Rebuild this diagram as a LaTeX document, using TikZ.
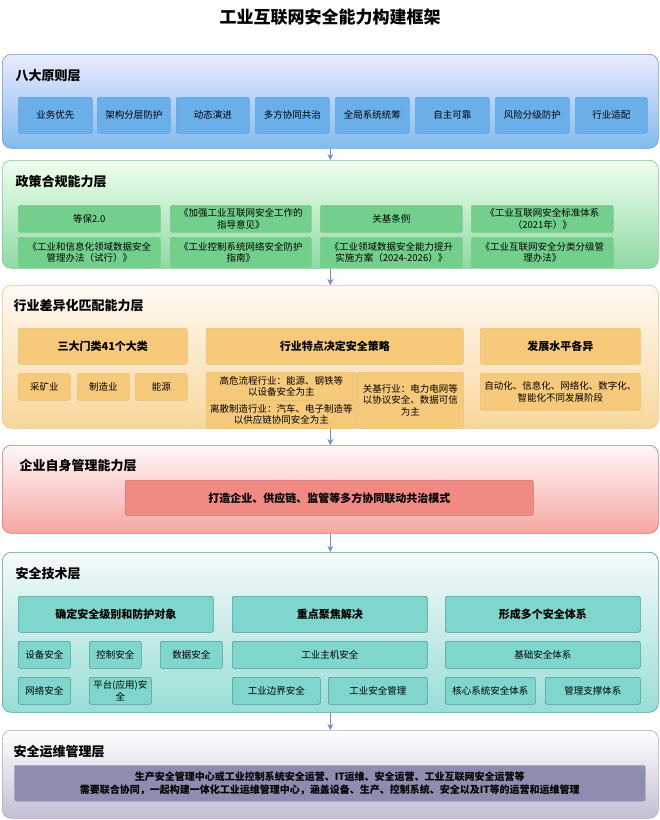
\documentclass[tikz,border=0pt]{standalone}
\usepackage{fontspec}
\setmainfont{Noto Sans CJK SC}
\XeTeXlinebreaklocale "zh"
\XeTeXlinebreakskip=0pt
\usetikzlibrary{arrows.meta}
\definecolor{bluebd}{HTML}{6A9FD8}
\definecolor{bluebx}{HTML}{6AAFEA}
\definecolor{greenbd}{HTML}{7CC98A}
\definecolor{greenbx}{HTML}{72D08C}
\definecolor{orangebd}{HTML}{E8C27A}
\definecolor{orangebx}{HTML}{F7C97A}
\definecolor{redbd}{HTML}{D97070}
\definecolor{redbx}{HTML}{F28A84}
\definecolor{tealbd}{HTML}{4E9A94}
\definecolor{tealbx}{HTML}{7ED6CC}
\definecolor{greybd}{HTML}{A8A8C0}
\definecolor{greybx}{HTML}{8F8CB2}
\definecolor{arrowc}{HTML}{7088D8}
\tikzset{every picture/.style={line width=0.6pt}}
\tikzset{
  layer/.style={draw=#1bd, rounded corners=9pt, anchor=north west, inner sep=0pt},
  ltitle/.style={anchor=west, font=\fontsize{13}{15}\selectfont\bfseries},
  box/.style={draw=#1bd, fill=#1bx, rounded corners=2pt, anchor=north west, inner sep=1pt, align=center, font=\fontsize{9.5}{11.5}\selectfont},
  bigbox/.style={box=#1, font=\fontsize{11}{13}\selectfont\bfseries},
  flow/.style={-{Stealth[length=6pt,width=6pt]}, draw=arrowc, line width=1.2pt}
}
\newcommand{\bx}[7][box]{% style, colour, name, x, y, w, h, text
  \node[#1=#2, minimum width=#5pt, minimum height=#6pt, text width=#5pt-4pt] (#3) at (#4) {#7};}
\begin{document}
\begin{tikzpicture}[x=1pt,y=-1pt]
  \useasboundingbox (0,0) rectangle (660,820);
  \fill[white] (0,0) rectangle (660,820);
  \node[font=\fontsize{17}{20}\selectfont\bfseries] (title) at (330,17) {工业互联网安全能力构建框架};

  % layer 1
  \node[layer=blue, top color=blue!8, bottom color=bluebx!85, minimum width=656pt, minimum height=94pt] (l1) at (2,54) {};
  \node[ltitle] (t1) at (12,76) {八大原则层};
  \bx{blue}{p1}{18,97}{74}{36}{业务优先}
  \bx{blue}{p2}{97,97}{73}{36}{架构分层防护}
  \bx{blue}{p3}{176,97}{73}{36}{动态演进}
  \bx{blue}{p4}{255,97}{74}{36}{多方协同共治}
  \bx{blue}{p5}{335,97}{74}{36}{全局系统统筹}
  \bx{blue}{p6}{415,97}{74}{36}{自主可靠}
  \bx{blue}{p7}{495,97}{74}{36}{风险分级防护}
  \bx{blue}{p8}{575,97}{72}{36}{行业适配}

  % layer 2
  \node[layer=green, top color=green!6, bottom color=greenbx!80, minimum width=656pt, minimum height=108pt] (l2) at (2,160) {};
  \node[ltitle] (t2) at (12,182) {政策合规能力层};
  \bx{green}{g1}{18,205}{142}{27}{等保2.0}
  \bx{green}{g2}{170,205}{141}{27}{《加强工业互联网安全工作的\\指导意见》}
  \bx{green}{g3}{320,205}{142}{27}{关基条例}
  \bx{green}{g4}{471,205}{142}{27}{《工业互联网安全标准体系\\（2021年）》}
  \bx{green}{g5}{18,237}{142}{30}{《工业和信息化领域数据安全\\管理办法（试行）》}
  \bx{green}{g6}{170,237}{141}{30}{《工业控制系统网络安全防护\\指南》}
  \bx{green}{g7}{320,237}{142}{30}{《工业领域数据安全能力提升\\实施方案（2024-2026）》}
  \bx{green}{g8}{471,237}{142}{30}{《工业互联网安全分类分级管\\理办法》}

  % layer 3
  \node[layer=orange, top color=orange!4, bottom color=orangebx!75, minimum width=656pt, minimum height=143pt] (l3) at (2,285) {};
  \node[ltitle] (t3) at (10,306) {行业差异化匹配能力层};
  \bx[bigbox]{orange}{o1}{18,328}{169}{36}{三大门类41个大类}
  \bx[bigbox]{orange}{o2}{206,328}{257}{36}{行业特点决定安全策略}
  \bx[bigbox]{orange}{o3}{480,328}{160}{36}{发展水平各异}
  \bx{orange}{o4}{18,373}{52}{27}{采矿业}
  \bx{orange}{o5}{77,373}{52}{27}{制造业}
  \bx{orange}{o6}{135,373}{52}{27}{能源}
  \bx{orange}{o7}{206,372}{150}{28}{高危流程行业：能源、钢铁等\\以设备安全为主}
  \bx{orange}{o8}{206,400}{150}{28}{离散制造行业：汽车、电子制造等\\以供应链协同安全为主}
  \bx{orange}{o9}{357,372}{106}{56}{关基行业：电力电网等\\以协议安全、数据可信\\为主}
  \bx{orange}{o10}{480,373}{160}{37}{自动化、信息化、网络化、数字化、\\智能化不同发展阶段}

  % layer 4
  \node[layer=red, top color=red!3, bottom color=redbx!75, minimum width=656pt, minimum height=88pt] (l4) at (2,445) {};
  \node[ltitle] (t4) at (16,466) {企业自身管理能力层};
  \bx[bigbox]{red}{r1}{125,480}{408}{35}{打造企业、供应链、监管等多方协同联动共治模式}

  % layer 5
  \node[layer=teal, top color=teal!4, bottom color=tealbx!80, minimum width=656pt, minimum height=160pt] (l5) at (2,552) {};
  \node[ltitle] (t5) at (12,574) {安全技术层};
  \bx[bigbox]{teal}{s1}{18,596}{195}{36}{确定安全级别和防护对象}
  \bx[bigbox]{teal}{s2}{232,596}{195}{36}{重点聚焦解决}
  \bx[bigbox]{teal}{s3}{445,596}{195}{36}{形成多个安全体系}
  \bx{teal}{s4}{18,641}{52}{27}{设备安全}
  \bx{teal}{s5}{89,641}{52}{27}{控制安全}
  \bx{teal}{s6}{160,641}{62}{27}{数据安全}
  \bx{teal}{s7}{232,641}{195}{27}{工业主机安全}
  \bx{teal}{s8}{445,641}{195}{27}{基础安全体系}
  \bx{teal}{s9}{18,677}{52}{27}{网络安全}
  \bx{teal}{s10}{89,677}{62}{27}{平台(应用)安\\全}
  \bx{teal}{s11}{232,677}{88}{27}{工业边界安全}
  \bx{teal}{s12}{328,677}{99}{27}{工业安全管理}
  \bx{teal}{s13}{445,677}{90}{27}{核心系统安全体系}
  \bx{teal}{s14}{545,677}{95}{27}{管理支撑体系}

  % layer 6
  \node[layer=grey, top color=white, bottom color=greybx!55, minimum width=656pt, minimum height=88pt] (l6) at (2,730) {};
  \node[ltitle] (t6) at (10,752) {安全运维管理层};
  \node[box=grey, minimum width=631pt, minimum height=36pt, text width=627pt, font=\fontsize{10}{13}\selectfont\bfseries] (m1) at (14,765)
    {生产安全管理中心或工业控制系统安全运营、IT运维、安全运营、工业互联网安全运营等\\需要联合协同，一起构建一体化工业运维管理中心，涵盖设备、生产、控制系统、安全以及IT等的运营和运维管理};

  % arrows between layers
  \foreach \a/\b in {l1/l2, l2/l3, l3/l4, l4/l5, l5/l6}
    \draw[flow] (\a.south) -- (\b.north);
\end{tikzpicture}
\end{document}
